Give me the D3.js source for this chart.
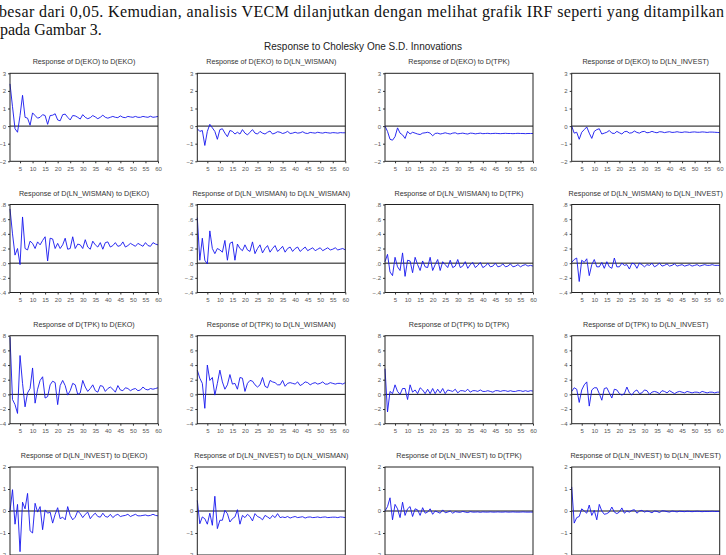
<!DOCTYPE html>
<html>
<head>
<meta charset="utf-8">
<script src="https://cdn.jsdelivr.net/npm/d3@7"></script>
<style>
  body { margin: 0; background: #fff; }
  svg { display: block; }
</style>
</head>
<body>
<svg id="chart"></svg>
<script>
// variables of the VECM (rows = response of, cols = shock to)
const variables = ['EKO', 'LN_WISMAN', 'TPK', 'LN_INVEST'];
const periods = d3.range(1, 61);
const xTicks = [5, 10, 15, 20, 25, 30, 35, 40, 45, 50, 55, 60];

// y axis per row
const rowDomains = [[-2, 3], [-0.4, 0.8], [-4, 8], [-2, 2]];
const rowTicks = [
  [-2, -1, 0, 1, 2, 3],
  [-0.4, -0.2, 0, 0.2, 0.4, 0.6, 0.8],
  [-4, -2, 0, 2, 4, 6, 8],
  [-2, -1, 0, 1, 2]
];

// responses (60 periods each)
const ekoEko = [2.4,1.1,-0.15,-0.35,0.6,1.75,0.5,0.45,0.05,0.75,0.6,0.45,0.5,0.65,0.6,0.1,0.6,0.62,0.7,0.35,0.3,0.65,0.68,0.5,0.35,0.6,0.58,0.5,0.4,0.65,0.5,0.42,0.48,0.6,0.52,0.42,0.5,0.62,0.5,0.45,0.5,0.55,0.5,0.48,0.58,0.5,0.48,0.55,0.52,0.5,0.55,0.5,0.5,0.55,0.52,0.5,0.56,0.5,0.52,0.55];
const ekoWisman = [-0.15,-0.3,-0.25,-1.1,-0.3,0.1,-0.1,-0.3,-0.75,-0.2,-0.15,-0.4,-0.6,-0.25,-0.3,-0.45,-0.35,-0.45,-0.2,-0.4,-0.5,-0.35,-0.2,-0.4,-0.45,-0.3,-0.4,-0.45,-0.35,-0.28,-0.45,-0.4,-0.32,-0.35,-0.42,-0.38,-0.3,-0.42,-0.4,-0.35,-0.4,-0.38,-0.32,-0.4,-0.42,-0.36,-0.38,-0.4,-0.35,-0.38,-0.4,-0.36,-0.38,-0.4,-0.37,-0.38,-0.4,-0.37,-0.38,-0.38];
const ekoTpk = [0,-0.3,-0.75,-0.8,-0.6,-0.1,-0.4,-0.5,-0.7,-0.3,-0.45,-0.35,-0.4,-0.45,-0.48,-0.4,-0.38,-0.35,-0.4,-0.55,-0.42,-0.4,-0.45,-0.42,-0.38,-0.42,-0.45,-0.4,-0.38,-0.44,-0.42,-0.4,-0.43,-0.45,-0.4,-0.41,-0.44,-0.42,-0.4,-0.43,-0.42,-0.41,-0.43,-0.42,-0.41,-0.42,-0.43,-0.42,-0.41,-0.42,-0.42,-0.43,-0.42,-0.41,-0.42,-0.42,-0.43,-0.42,-0.42,-0.42];
const ekoInvest = [0,-0.4,-0.35,-0.75,-0.35,-0.2,-0.05,-0.4,-0.7,-0.3,-0.2,-0.15,-0.45,-0.4,-0.35,-0.25,-0.4,-0.42,-0.3,-0.38,-0.45,-0.32,-0.3,-0.4,-0.38,-0.28,-0.36,-0.4,-0.32,-0.3,-0.38,-0.36,-0.3,-0.35,-0.38,-0.32,-0.33,-0.37,-0.34,-0.32,-0.36,-0.35,-0.32,-0.35,-0.36,-0.33,-0.34,-0.36,-0.34,-0.33,-0.35,-0.35,-0.33,-0.34,-0.36,-0.34,-0.34,-0.35,-0.36,-0.37];

const wismanEko = [0.74,0.4,0.11,0.2,-0.02,0.63,0.2,0.18,0.3,0.27,0.2,0.29,0.25,0.31,0.36,0.03,0.34,0.33,0.2,0.27,0.2,0.25,0.34,0.19,0.2,0.36,0.2,0.26,0.25,0.2,0.32,0.22,0.19,0.3,0.25,0.22,0.28,0.19,0.28,0.29,0.22,0.24,0.28,0.23,0.24,0.29,0.22,0.24,0.27,0.25,0.23,0.27,0.25,0.23,0.28,0.24,0.23,0.28,0.26,0.25];
const wismanWisman = [0.62,0.04,0.34,0.04,-0.01,0.44,0.2,0.13,0.2,0.18,0.15,0.31,0.04,0.27,0.29,0.04,0.26,0.2,0.17,0.25,0.18,0.16,0.29,0.13,0.2,0.25,0.14,0.2,0.24,0.15,0.2,0.24,0.16,0.19,0.23,0.15,0.2,0.22,0.16,0.2,0.22,0.16,0.19,0.22,0.17,0.19,0.21,0.17,0.19,0.21,0.17,0.19,0.21,0.18,0.19,0.21,0.18,0.19,0.2,0.18];
const wismanTpk = [0.02,0.12,-0.12,-0.17,0.08,-0.05,-0.1,0.14,-0.18,0.04,0.03,-0.13,0.08,-0.02,-0.1,0.03,-0.05,-0.06,0.08,-0.1,-0.02,0.05,-0.1,0.02,-0.02,-0.06,0.04,-0.06,-0.04,0.05,-0.06,-0.04,0.02,-0.07,-0.02,0.01,-0.06,-0.03,0.01,-0.06,-0.04,0,-0.05,-0.04,0,-0.05,-0.04,-0.01,-0.05,-0.04,-0.01,-0.05,-0.04,-0.02,-0.05,-0.03,-0.02,-0.04,-0.03,-0.04];
const wismanInvest = [0.01,0.05,0.07,-0.25,0.04,0.01,0.06,-0.17,-0.02,0.05,-0.05,-0.05,0.01,-0.07,0.02,-0.05,-0.07,0.07,-0.05,-0.05,0,-0.03,-0.02,-0.08,0,-0.01,-0.07,0,-0.02,-0.05,-0.02,-0.03,0,-0.05,-0.03,0,-0.04,-0.03,-0.01,-0.04,-0.03,-0.01,-0.04,-0.03,-0.02,-0.04,-0.03,-0.02,-0.04,-0.03,-0.02,-0.04,-0.03,-0.02,-0.03,-0.03,-0.02,-0.03,-0.03,-0.03];

const tpkEko = [7.8,-0.7,-1.4,-2.6,5.3,1.5,-1.7,0.2,0.8,3.6,-1.2,0.7,1.9,2.4,-0.5,-0.3,1.3,1.8,1.6,-1.4,1.2,1.9,1.2,-0.1,0.5,1.5,1.3,0,0.2,1.9,1,0.4,0.8,1.3,0.5,0.3,1.2,1.1,0.4,0.8,1,0.7,0.3,1.2,0.6,0.5,0.9,0.8,0.5,0.7,0.8,0.5,0.6,1,0.7,0.6,0.8,0.7,0.8,0.9];
const tpkWisman = [3.3,2.2,1.5,-1.9,4,1.9,2.3,-0.1,1.5,3.3,1.7,0.7,1.3,2.7,1.4,1.5,0.7,2.3,2.2,0.4,1.5,1.9,1.8,1.3,1,1.3,2.3,1.1,0.9,1.9,1.7,1.6,1.3,1.3,1.9,1.1,1.5,1.6,1.5,1.4,1.7,1.2,1.4,1.7,1.6,1.3,1.5,1.6,1.4,1.5,1.7,1.4,1.4,1.6,1.5,1.4,1.5,1.5,1.4,1.6];
const tpkTpk = [3.5,-2.4,0.4,0.1,1.3,0.4,0,0.8,0.8,-0.7,1.3,0.3,0.6,0.1,0.9,0.6,0.1,0.7,0.1,0.8,0.1,0.7,0.2,0.8,0.1,0.6,0.5,0.4,0.7,0.2,0.5,0.5,0.4,0.7,0.3,0.5,0.5,0.4,0.6,0.4,0.4,0.5,0.4,0.3,0.5,0.5,0.4,0.5,0.5,0.4,0.5,0.4,0.4,0.5,0.5,0.4,0.5,0.4,0.5,0.45];
const tpkInvest = [0.4,0.9,0.7,-1.1,0.6,1.3,1.7,-1.6,0.6,0.9,0.9,0.1,-0.8,0.8,0.9,0.2,-0.5,0.7,0.6,0.1,-0.1,0.1,1,0.2,-0.1,0.4,0.6,0.1,0.2,0.6,0.5,0,0.3,0.4,0.3,0.1,0.5,0.4,0.2,0.5,0.3,0.1,0.3,0.4,0.3,0.2,0.4,0.3,0.2,0.3,0.3,0.2,0.4,0.3,0.2,0.3,0.3,0.2,0.3,0.3];

const investEko = [0,0.97,-0.6,0.3,-1.85,0.4,0.1,0.8,-0.9,-1,0.35,-0.05,0.2,-0.85,0.05,-0.1,-0.05,-0.55,-0.15,0.15,-0.35,-0.28,-0.4,0.2,-0.2,-0.4,-0.28,0,-0.12,-0.3,-0.15,-0.05,-0.35,-0.2,-0.1,-0.25,-0.28,-0.1,-0.25,-0.28,-0.15,-0.3,-0.2,-0.15,-0.25,-0.22,-0.2,-0.15,-0.25,-0.2,-0.15,-0.22,-0.22,-0.2,-0.18,-0.22,-0.2,-0.15,-0.2,-0.22];
const investWisman = [0.48,-0.58,-0.27,-0.35,-0.6,-0.1,-0.65,0.67,-0.8,-0.42,-0.42,0.03,-0.12,-0.5,-0.35,-0.27,0.06,-0.6,-0.2,-0.3,-0.15,-0.25,-0.45,-0.12,-0.25,-0.3,-0.4,-0.2,-0.27,-0.35,-0.2,-0.3,-0.12,-0.3,-0.27,-0.3,-0.25,-0.32,-0.28,-0.25,-0.3,-0.28,-0.26,-0.32,-0.28,-0.27,-0.3,-0.29,-0.27,-0.3,-0.28,-0.27,-0.3,-0.29,-0.28,-0.28,-0.3,-0.27,-0.28,-0.3];
const investTpk = [0,0.2,0.6,-0.4,0.3,0.1,-0.3,0.4,-0.2,0.1,0.2,-0.25,0.1,0.05,-0.2,0.15,-0.1,-0.05,0.1,-0.15,0,-0.05,-0.1,0.05,-0.08,-0.05,0,-0.1,-0.03,-0.05,-0.06,-0.02,-0.05,-0.07,-0.03,-0.05,-0.05,-0.04,-0.06,-0.04,-0.05,-0.05,-0.04,-0.05,-0.05,-0.04,-0.05,-0.05,-0.04,-0.05,-0.05,-0.04,-0.05,-0.05,-0.05,-0.04,-0.05,-0.05,-0.05,-0.05];
const investInvest = [1.1,-0.55,-0.3,-0.25,0.1,0,-0.1,0.27,-0.2,0.03,-0.4,0.3,0,-0.15,-0.12,-0.05,0.18,-0.05,-0.12,-0.05,0.14,-0.1,0,-0.05,0.03,0.06,-0.1,0,0.03,-0.05,0,-0.03,-0.08,0,-0.02,-0.07,0.01,0,-0.03,-0.05,0,-0.02,-0.04,-0.01,-0.02,-0.03,-0.01,-0.02,-0.03,-0.02,-0.01,-0.02,-0.03,-0.02,-0.02,-0.02,-0.01,-0.02,-0.02,-0.02];

const responses = [
  [ekoEko, ekoWisman, ekoTpk, ekoInvest],
  [wismanEko, wismanWisman, wismanTpk, wismanInvest],
  [tpkEko, tpkWisman, tpkTpk, tpkInvest],
  [investEko, investWisman, investTpk, investInvest]
];

const width = 726;
const height = 555;
const colLeft = [10, 197.3, 385, 571.7];
const rowTop = [73.3, 204.5, 335.7, 467];
const plotWidth = 148;
const plotHeight = 88;
const sans = '"Liberation Sans", Arial, sans-serif';

const svg = d3.select('#chart')
  .attr('width', width)
  .attr('height', height)
  .style('background', '#fff');

// paragraph text of the paper above the figure
const bodyFont = '"Liberation Serif", "Times New Roman", serif';
svg.append('text')
  .attr('x', -1).attr('y', 17)
  .attr('textLength', 725)
  .attr('lengthAdjust', 'spacing')
  .attr('font-family', bodyFont)
  .attr('font-size', 16)
  .attr('fill', '#111')
  .text('besar dari 0,05. Kemudian, analisis VECM dilanjutkan dengan melihat grafik IRF seperti yang ditampilkan');
svg.append('text')
  .attr('x', 0).attr('y', 35)
  .attr('font-family', bodyFont)
  .attr('font-size', 16)
  .attr('fill', '#111')
  .text('pada Gambar 3.');

// figure title
svg.append('text')
  .attr('x', 363).attr('y', 50)
  .attr('text-anchor', 'middle')
  .attr('font-family', sans)
  .attr('font-size', 10)
  .attr('fill', '#222')
  .text('Response to Cholesky One S.D. Innovations');

const x = d3.scaleLinear().domain([1, 60]).range([0, plotWidth]);

variables.forEach((resp, r) => {
  const y = d3.scaleLinear().domain(rowDomains[r]).range([plotHeight, 0]);
  const fmt = r === 1 ? (d => d3.format('.1f')(d).replace('0.', '.')) : d3.format('d');

  variables.forEach((shock, c) => {
    const g = svg.append('g')
      .attr('transform', `translate(${colLeft[c]},${rowTop[r]})`);

    // panel title
    g.append('text')
      .attr('x', plotWidth / 2).attr('y', -9)
      .attr('text-anchor', 'middle')
      .attr('font-family', sans)
      .attr('font-size', 7.2)
      .attr('fill', '#333')
      .text(`Response of D(${resp}) to D(${shock})`);

    // axes (bottom row labels fall below the page, so only its ticks)
    const yAxis = g.append('g')
      .call(d3.axisLeft(y).tickValues(rowTicks[r]).tickFormat(fmt).tickSize(2).tickPadding(2));
    const xAxis = g.append('g')
      .attr('transform', `translate(0,${plotHeight})`)
      .call(d3.axisBottom(x).tickValues(xTicks).tickSize(2).tickPadding(3)
        .tickFormat(r === 3 ? '' : d3.format('d')));
    [yAxis, xAxis].forEach(a => {
      a.select('.domain').remove();
      a.selectAll('line').attr('stroke', '#333');
      a.selectAll('text')
        .attr('font-family', sans)
        .attr('font-size', 6)
        .attr('fill', '#555');
    });

    // zero line
    g.append('line')
      .attr('x1', 0).attr('x2', plotWidth)
      .attr('y1', y(0)).attr('y2', y(0))
      .attr('stroke', '#111')
      .attr('stroke-width', 1);

    // response line
    const line = d3.line()
      .x((d, i) => x(periods[i]))
      .y(d => y(d));
    g.append('path')
      .attr('d', line(responses[r][c]))
      .attr('fill', 'none')
      .attr('stroke', '#1515ee')
      .attr('stroke-width', 0.9);

    // frame
    g.append('rect')
      .attr('width', plotWidth).attr('height', plotHeight)
      .attr('fill', 'none')
      .attr('stroke', '#222')
      .attr('stroke-width', 1);
  });
});
</script>
</body>
</html>
